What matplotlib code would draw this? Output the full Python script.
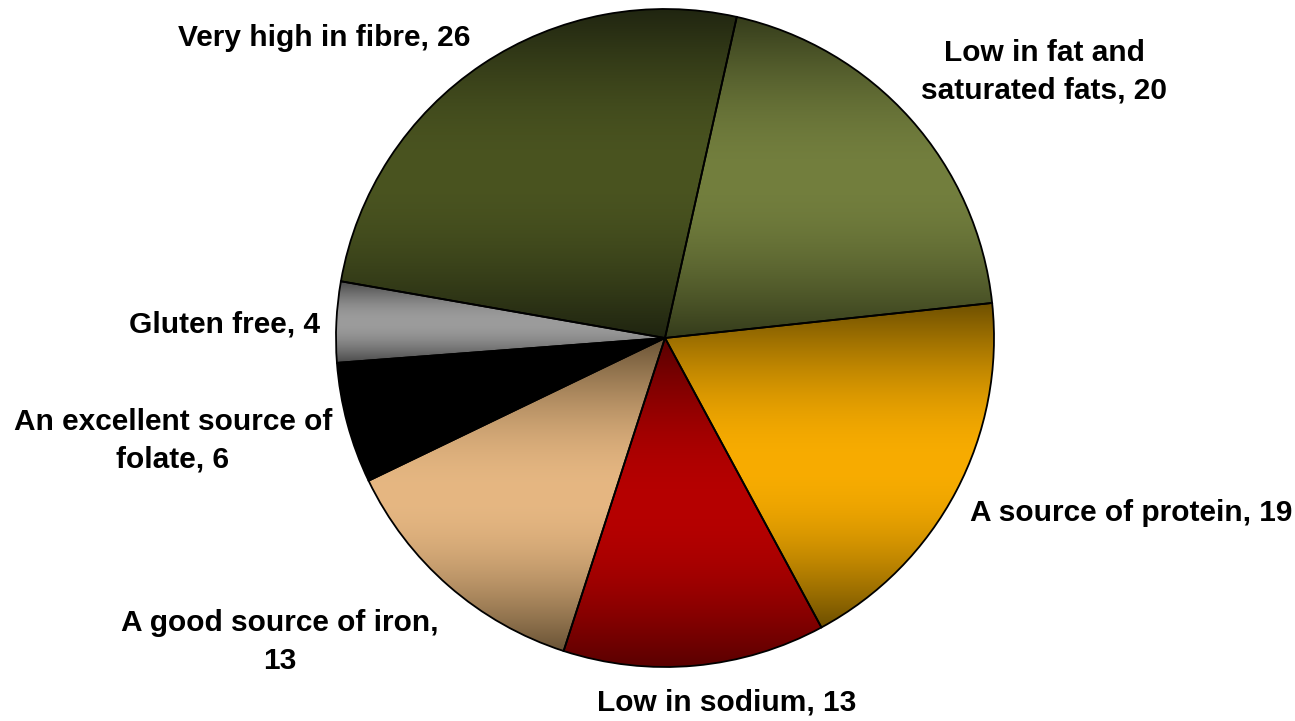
import numpy as np
import matplotlib.pyplot as plt
from matplotlib.colors import to_rgb

plt.rcParams['font.family'] = ['Liberation Sans', 'DejaVu Sans']

labels = ['Low in fat and\nsaturated fats, 20', 'A source of protein, 19', 'Low in sodium, 13',
          'A good source of iron,\n13', 'An excellent source of\nfolate, 6', 'Gluten free, 4',
          'Very high in fibre, 26']
values = [20, 19, 13, 13, 6, 4, 26]
# (light middle colour, dark edge colour) for the shaded fill
mid_colors = ['#737f3e', '#f8ac00', '#b60000', '#e6b782', '#000000', '#9c9c9c', '#4a5420']
edge_colors = ['#353c1b', '#6e5000', '#580000', '#6a5436', '#000000', '#4a4a4a', '#1f2410']
# label centres in pixels
label_px = [(1044, 72), (1131, 513), (727, 703), (280, 642), (173, 441), (224, 325), (324, 38)]

W, H = 1295, 721
cx, cy, R = 665, 338, 329

fig = plt.figure(figsize=(W / 100, H / 100), dpi=100)
ax = fig.add_axes([0, 0, 1, 1])
ax.axis('off')

wedges, _ = ax.pie(values, startangle=77.4, counterclock=False, radius=1,
                   wedgeprops=dict(facecolor='none', edgecolor='black', linewidth=1.3))

for w, mc, ec in zip(wedges, mid_colors, edge_colors):
    verts = w.get_path().vertices
    x0, x1 = verts[:, 0].min(), verts[:, 0].max()
    y0, y1 = verts[:, 1].min(), verts[:, 1].max()
    t = np.linspace(0, 1, 256)
    f = np.sin(np.pi * t)
    m, e = np.array(to_rgb(mc)), np.array(to_rgb(ec))
    grad = e[None, :] + (m - e)[None, :] * f[:, None]
    img = np.repeat(grad[:, None, :], 2, axis=1)
    im = ax.imshow(img, extent=(x0, x1, y0, y1), origin='lower', aspect='auto',
                   interpolation='bilinear', zorder=1)
    im.set_clip_path(w)
    w.set_zorder(2)

ax.set_xlim(-cx / R, (W - cx) / R)
ax.set_ylim(-(H - cy) / R, cy / R)

for lab, (px, py) in zip(labels, label_px):
    ax.text((px - cx) / R, (cy - py) / R, lab, ha='center', va='center',
            fontsize=21.5, fontweight='bold', linespacing=1.45)

fig.savefig('out.png', dpi=100)
